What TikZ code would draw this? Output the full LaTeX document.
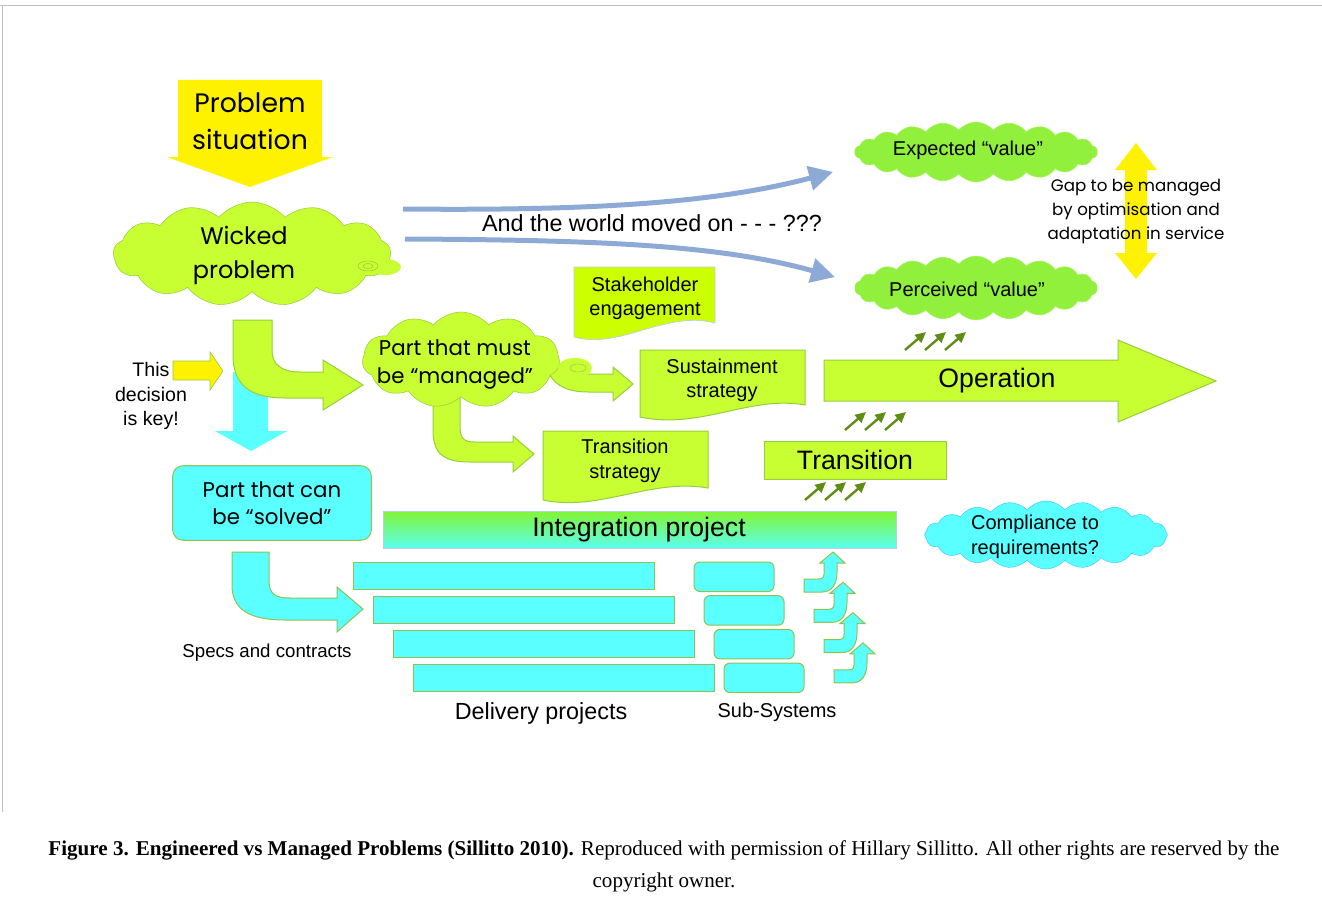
\documentclass[tikz,border=0pt]{standalone}
\usepackage{fontspec}
\setmainfont{Liberation Sans}
\newfontfamily\comicfont{Poppins}
\newfontfamily\capfont{Liberation Serif}
\usetikzlibrary{shapes.symbols,arrows.meta}

\definecolor{limefill}{RGB}{200,255,50}
\definecolor{limeline}{RGB}{150,205,60}
\definecolor{stakefill}{RGB}{204,255,0}
\definecolor{greencloud}{RGB}{145,240,60}
\definecolor{cyanfill}{RGB}{90,255,255}
\definecolor{cyanline}{RGB}{140,195,80}
\definecolor{blueflow}{RGB}{141,170,214}
\definecolor{darkgreen}{RGB}{95,140,20}
\definecolor{intgreen}{RGB}{130,245,50}
\definecolor{intcyan}{RGB}{90,255,240}

\begin{document}
\begin{tikzpicture}
  [x=0.75pt,y=-0.75pt,
   every node/.style={align=center,inner sep=0pt},
   lime/.style={fill=limefill,draw=limeline,line width=0.75pt},
   cyanbox/.style={fill=cyanfill,draw=cyanline,line width=0.75pt},
   fluffy/.style={cloud,cloud puffs=#1,cloud puff arc=100,cloud ignores aspect,inner sep=0pt},
   flow/.style={draw=blueflow,line width=3.75pt,-{Triangle[length=18pt,width=18pt]}},
   tinyarrow/.style={draw=darkgreen,line width=1.8pt,-{Triangle[length=8pt,width=7.5pt]}},
   arial/.style={font=\fontsize{15}{18}\selectfont},
   arialbig/.style={font=\fontsize{20}{24}\selectfont}]
  \useasboundingbox (0,0) rectangle (1322,906);
  \draw[black!25] (0,5) -- (1322,5);
  \draw[black!25] (2,5) -- (2,812);

  % the world moves on
  \coordinate (w1) at (403,209);
  \coordinate (w2) at (405,239);
  \coordinate (exptip) at (833,172);
  \coordinate (pertip) at (835,277);
  \draw[flow] (w1) .. controls (600,211) and (720,202) .. (exptip);
  \draw[flow] (w2) .. controls (600,240) and (720,245) .. (pertip);
  \node[font=\fontsize{17.5}{21}\selectfont] (world) at (652,223) {And the world moved on - - - ???};

  % problem situation
  \fill[yellow] (178,80) -- (322,80) -- (322,157) -- (333,157) -- (250,187) -- (167,157) -- (178,157) -- cycle;
  \node[font=\comicfont\fontsize{20}{27.75}\selectfont] (problem) at (250,121) {Problem\\situation};

  % split of the wicked problem
  \path[cyanbox,draw=none] (233,372) -- (268,372) -- (268,431) -- (287,431) -- (251,451) -- (215,431) -- (233,431) -- cycle;
  \path[lime] (233,320) -- (233,355) .. controls (233,385) and (250,398) .. (285,398) -- (323,398) -- (323,410)
     -- (363,385) -- (323,360) -- (323,372) -- (300,372) .. controls (282,372) and (272,365) .. (272,350) -- (272,320) -- cycle;

  \node[fluffy=13,fill=limefill,draw=limeline,minimum width=208pt,minimum height=78pt] (wickedcloud) at (252,254) {};
  \fill[limefill] (385,267) ellipse (16 and 8);
  \draw[limeline] (368,266) ellipse (10 and 5) (368,266) ellipse (5 and 2.5);
  \node[font=\comicfont\fontsize{18}{25.5}\selectfont] (wicked) at (244,255) {Wicked\\problem};

  % managed part
  \path[lime] (555,355) .. controls (560,372) and (570,374) .. (590,374) -- (613,374) -- (613,367) -- (633,384)
     -- (613,401) -- (613,392) -- (588,392) .. controls (560,392) and (548,380) .. (545,360) -- cycle;
  \path[lime] (433,395) -- (433,430) .. controls (433,455) and (445,462) .. (470,462) -- (513,462) -- (513,472)
     -- (534,454) -- (513,436) -- (513,442) -- (475,442) .. controls (462,442) and (460,437) .. (460,425) -- (460,395) -- cycle;
  \node[fluffy=11,fill=limefill,draw=limeline,minimum width=148pt,minimum height=72pt] (managedcloud) at (461,360) {};
  \fill[limefill] (575,368) ellipse (17 and 10);
  \draw[limeline] (578,368) ellipse (8 and 4);
  \node[font=\comicfont\fontsize{16}{21}\selectfont] (managed) at (455,364) {Part that must\\be “managed”};

  % strategies
  \path[fill=stakefill,draw=blueflow!60,line width=0.5pt] (574,267) -- (715,267) -- (715,323)
     .. controls (665,310) and (620,350) .. (574,337) -- cycle;
  \node[arial] (stake) at (645,298) {Stakeholder\\engagement};
  \path[lime] (640,350) -- (805,350) -- (805,405) .. controls (750,395) and (700,430) .. (640,417) -- cycle;
  \node[arial] (sustain) at (722,380) {Sustainment\\strategy};
  \path[lime] (543,431) -- (708,431) -- (708,488) .. controls (650,478) and (600,512) .. (543,500) -- cycle;
  \node[arial,font=\fontsize{15}{18.75}\selectfont] (transstrat) at (625,461) {Transition\\strategy};

  % transition and operation
  \node[lime,minimum width=136.5pt,minimum height=28.5pt,arialbig] (transition) at (855,460) {Transition};
  \path[lime] (824,360) -- (1118,360) -- (1118,340) -- (1216,381) -- (1118,422) -- (1118,401) -- (824,401) -- cycle;
  \node[arialbig] (operation) at (997,381) {Operation};
  \foreach \x in {0,20,40} {
    \draw[tinyarrow] (905+\x,350) -- (926+\x,332);
    \draw[tinyarrow] (845+\x,430) -- (866+\x,412);
    \draw[tinyarrow] (805+\x,500) -- (826+\x,482);
  }

  % value
  \node[fluffy=22,fill=greencloud,draw=greencloud!80!white,minimum width=182pt,minimum height=45pt] (expcloud) at (976,152) {};
  \node[arial] (expected) at (968,150) {Expected “value”};
  \node[fluffy=22,fill=greencloud,draw=greencloud!80!white,minimum width=182pt,minimum height=48pt] (percloud) at (976,288) {};
  \node[arial] (perceived) at (967,289) {Perceived “value”};
  \fill[yellow] (1136,143) -- (1157,170) -- (1147,170) -- (1147,253) -- (1157,253) -- (1136,279) -- (1115,253)
     -- (1125,253) -- (1125,170) -- (1115,170) -- cycle;
  \node[font=\comicfont\fontsize{12.5}{18}\selectfont] (gap) at (1136,211) {Gap to be managed\\by optimisation and\\adaptation in service};

  % the key decision
  \node[arial,font=\fontsize{14.7}{18.4}\selectfont] (decision) at (151,396) {This\\decision\\is key!};
  \path[fill=yellow,draw=limeline,line width=0.5pt] (173,361) -- (210,361) -- (210,352) -- (223,371) -- (210,390) -- (210,380) -- (173,380) -- cycle;

  % solved part
  \node[cyanbox,rounded corners=8pt,minimum width=149pt,minimum height=56pt,
        font=\comicfont\fontsize{16}{20}\selectfont] (solved) at (272,503) {Part that can\\be “solved”};
  \shade[top color=intgreen,bottom color=intcyan] (383,511) rectangle (896,548);
  \draw[blueflow!60,line width=0.5pt] (383,511) rectangle (896,548);
  \node[arialbig] (integration) at (639,530) {Integration project};

  \path[cyanbox] (232,552) -- (232,585) .. controls (232,610) and (250,620) .. (285,620) -- (337,620) -- (337,632)
     -- (363,609) -- (337,587) -- (337,598) -- (290,598) .. controls (275,598) and (269,594) .. (269,580) -- (269,552) -- cycle;
  \node[font=\fontsize{14}{17}\selectfont] (specs) at (267,653) {Specs and contracts};

  \foreach \i in {0,...,3} {
    \draw[cyanbox] ({353+20*\i},{562+34.3*\i}) rectangle +(301,27);
    \draw[cyanbox,rounded corners=4.5pt] ({694+10*\i},{562+33.7*\i}) rectangle +(80,29.5);
    \begin{scope}[shift={({10*\i},{30.3*\i})}]
      \path[cyanbox] (804,592) -- (822,592) .. controls (832,592) and (837,584) .. (837,572) -- (837,563) -- (845,563)
         -- (833,552) -- (820,563) -- (824,563) -- (824,574) .. controls (824,578) and (822,579) .. (818,579) -- (804,579) -- cycle;
    \end{scope}
  }
  \node[font=\fontsize{17.5}{21}\selectfont] (delivery) at (541,713) {Delivery projects};
  \node[arial] (subsys) at (777,712) {Sub-Systems};

  \node[fluffy=20,fill=cyanfill,draw=cyanfill!80!blue,minimum width=182pt,minimum height=51pt] (compcloud) at (1046,535) {};
  \node[font=\fontsize{15}{18.75}\selectfont] (compliance) at (1035,537) {Compliance to\\requirements?};

  % caption
  \node[font=\capfont\fontsize{15.8}{24}\selectfont] (caption) at (664,866)
    {\textbf{Figure 3. Engineered vs Managed Problems (Sillitto 2010).} Reproduced with permission of Hillary Sillitto. All other rights are reserved by the\\copyright owner.};
\end{tikzpicture}
\end{document}
